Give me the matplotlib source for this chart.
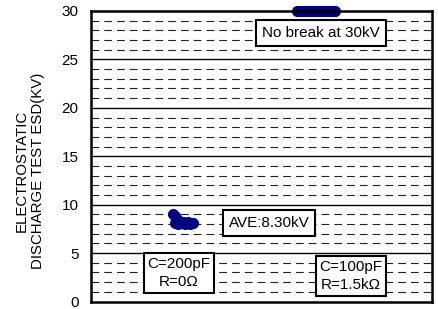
import matplotlib
matplotlib.use("Agg")
import matplotlib.pyplot as plt

plt.rcParams['font.family'] = ['Liberation Sans', 'DejaVu Sans']

# muestras C=200pF, R=0 ohm
x_200 = [24, 24.5, 25, 25.5, 24.5, 25.5, 26, 26.5, 27, 27.5, 28, 28.5, 29, 29.5, 30]
esd_200 = [9.0, 8.8, 8.6, 8.4, 8.1, 8.0, 8.2, 8.1, 8.2, 8.0, 8.1, 8.2, 8.0, 8.1, 8.1]

# muestras C=100pF, R=1.5k ohm (sin ruptura a 30kV)
x_100 = [60.5, 61, 61.5, 62, 62.5, 63, 63.5, 64, 64.5, 65, 65.5, 66, 66.5,
         67, 67.5, 68, 68.5, 69, 69.5, 70, 70.5, 71, 71.5]
esd_100 = [30] * len(x_100)

y_ticks = [0, 5, 10, 15, 20, 25, 30]

fig = plt.figure(figsize=(4.38, 3.09), dpi=100)
ax = fig.add_axes([91 / 438, 1 - 301.5 / 309, 341 / 438, 290.5 / 309])

ax.set_xlim(0, 100)
ax.set_ylim(0, 30)

# rejilla: discontinua cada 1, continua cada 5
for v in range(1, 30):
    if v % 5 == 0:
        ax.axhline(v, color='black', lw=1.0, zorder=1)
    else:
        ax.axhline(v, color='#222222', lw=0.8, ls=(0, (7, 4.5)), zorder=1)

ax.plot(x_200, esd_200, 'o', color='#000080', ms=7, zorder=3)
ax.plot(x_100, esd_100, 'o', color='#000080', ms=7, zorder=3, clip_on=False)

caja = dict(boxstyle='square,pad=0.4', fc='white', ec='black', lw=1.5)
caja2 = dict(boxstyle='square,pad=0.25', fc='white', ec='black', lw=1.5)
ax.text(67.4, 27.7, 'No break at 30kV', ha='center', va='center', fontsize=11, bbox=caja, zorder=4)
ax.text(52.2, 8.13, 'AVE:8.30kV', ha='center', va='center', fontsize=11, bbox=caja, zorder=4)
ax.text(25.8, 2.93, 'C=200pF\nR=0Ω', ha='center', va='center', fontsize=11,
        linespacing=1.35, bbox=caja2, zorder=4)
ax.text(76.2, 2.62, 'C=100pF\nR=1.5kΩ', ha='center', va='center', fontsize=11,
        linespacing=1.35, bbox=caja2, zorder=4)

ax.set_xticks([])
ax.set_yticks(y_ticks)
ax.tick_params(axis='y', length=0, pad=9, labelsize=11)
for s in ax.spines.values():
    s.set_linewidth(1.8)
    s.set_zorder(5)

fig.text(30 / 438, 1 - 171 / 309, 'ELECTROSTATIC\nDISCHARGE TEST ESD(KV)', rotation=90,
         ha='center', va='center', fontsize=10.8, linespacing=1.2)

fig.savefig('out.png', dpi=100)
